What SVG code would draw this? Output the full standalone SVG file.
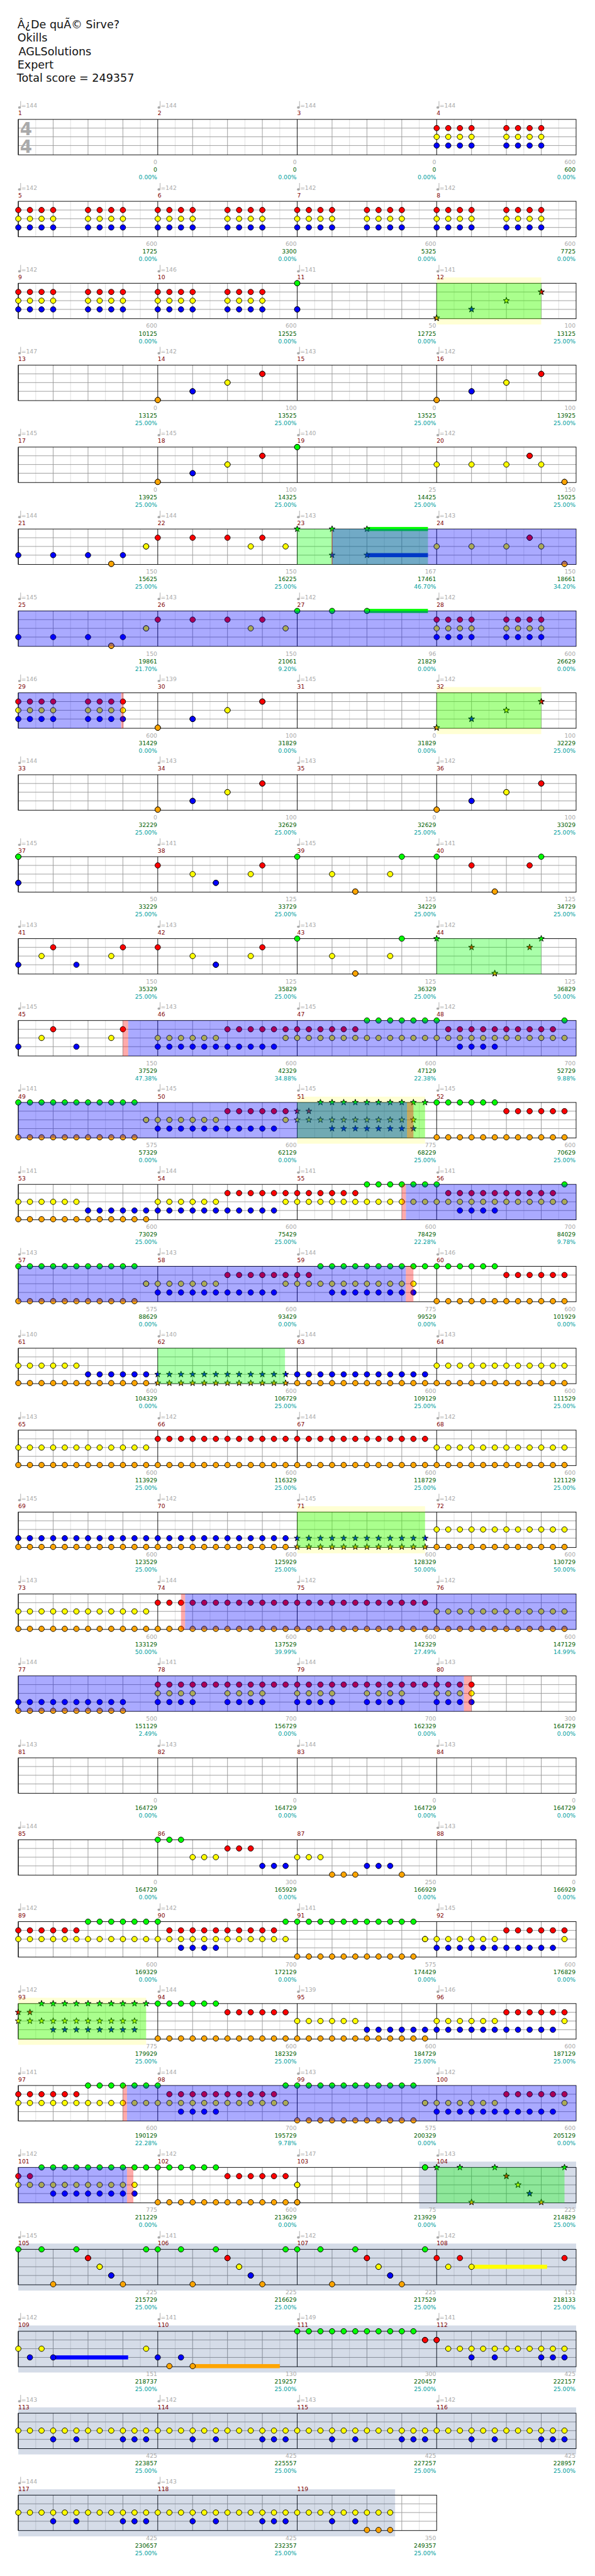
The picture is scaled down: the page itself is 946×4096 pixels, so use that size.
<svg xmlns="http://www.w3.org/2000/svg" width="946" height="4096" viewBox="0 0 946 4096">
<style>
text{font:10px "DejaVu Sans",sans-serif}
.h{font-size:19px;fill:#111}
.ts{font:bold 30px "DejaVu Sans",sans-serif;fill:#aaa}
.t{fill:#aaa}.n{fill:#800000}
.v,.s,.p{text-anchor:end}
.v{fill:#aaa}.s{fill:#006000}.p{fill:#00a0a0}
path{fill:none}
.r{marker:url(#nr)}.y{marker:url(#ny)}.b{marker:url(#nb)}.g{marker:url(#ng)}.o{marker:url(#no)}
.R{marker:url(#sr)}.Y{marker:url(#sy)}.B{marker:url(#sb)}.G{marker:url(#sg)}.O{marker:url(#so)}
.yb{fill:#ff0;fill-opacity:.1667}.gb{fill:#032d75;fill-opacity:.1667}
.gz{fill:#0f0;fill-opacity:.3333}.bz{fill:#00f;fill-opacity:.3333}.rz{fill:#f00;fill-opacity:.3333}
</style>
<defs>
<marker id="nr" markerUnits="userSpaceOnUse" markerWidth="16" markerHeight="16" refX="8" refY="8"><circle cx="8" cy="8" r="4.7" fill="#f00" stroke="#000"/></marker>
<marker id="ny" markerUnits="userSpaceOnUse" markerWidth="16" markerHeight="16" refX="8" refY="8"><circle cx="8" cy="8" r="4.7" fill="#ff0" stroke="#000"/></marker>
<marker id="nb" markerUnits="userSpaceOnUse" markerWidth="16" markerHeight="16" refX="8" refY="8"><circle cx="8" cy="8" r="4.7" fill="#00f" stroke="#000"/></marker>
<marker id="ng" markerUnits="userSpaceOnUse" markerWidth="16" markerHeight="16" refX="8" refY="8"><circle cx="8" cy="8" r="4.7" fill="#0f0" stroke="#000"/></marker>
<marker id="no" markerUnits="userSpaceOnUse" markerWidth="16" markerHeight="16" refX="8" refY="8"><circle cx="8" cy="8" r="4.7" fill="#ffa500" stroke="#000"/></marker>
<polygon id="star" points="8,2.4 9.28,6.24 13.2,6.24 10,8.64 11.2,12.48 8,10.16 4.8,12.48 6,8.64 2.8,6.24 6.72,6.24" stroke="#000"/>
<marker id="sr" markerUnits="userSpaceOnUse" markerWidth="16" markerHeight="16" refX="8" refY="8"><use href="#star" fill="#f00"/></marker>
<marker id="sy" markerUnits="userSpaceOnUse" markerWidth="16" markerHeight="16" refX="8" refY="8"><use href="#star" fill="#ff0"/></marker>
<marker id="sb" markerUnits="userSpaceOnUse" markerWidth="16" markerHeight="16" refX="8" refY="8"><use href="#star" fill="#00f"/></marker>
<marker id="sg" markerUnits="userSpaceOnUse" markerWidth="16" markerHeight="16" refX="8" refY="8"><use href="#star" fill="#0f0"/></marker>
<marker id="so" markerUnits="userSpaceOnUse" markerWidth="16" markerHeight="16" refX="8" refY="8"><use href="#star" fill="#ffa500"/></marker>
<g id="qn" fill="#aaa"><ellipse cx="2" cy="-20.5" rx="2.4" ry="2"/><path d="M4 -20.5V-31.5" stroke="#aaa"/></g>
<g id="ms"><path d="M30 0v61M90 0v61M150 0v61M210 0v61" stroke="#ddd"/><path d="M60 0v61M120 0v61M180 0v61M0 15h240M0 30h240M0 45h240" stroke="#999"/><path d="M0 0v61" stroke="#000"/></g>
<g id="st"><use href="#ms"/><use href="#ms" x="240"/><use href="#ms" x="480"/><use href="#ms" x="720"/><rect width="960" height="61" fill="none" stroke="#000"/></g>
<g id="st3"><use href="#ms"/><use href="#ms" x="240"/><use href="#ms" x="480"/><rect width="720" height="61" fill="none" stroke="#000"/></g>
<path id="F" d="M0 0h20 20 20 20 20 20 20 20 20 20 20"/>
<g id="A"><path class="r" d="M0 15h20 20 20m60 0h20 20 20"/><path class="y" d="M0 30h20 20 20m60 0h20 20 20"/><path class="b" d="M0 45h20 20 20m60 0h20 20 20"/></g>
<g id="P"><path class="o" d="M0 60h0"/><path class="b" d="M60 45h0"/><path class="y" d="M120 30h0"/><path class="r" d="M180 15h0"/></g>
<g id="Ps"><path class="O" d="M0 60h0"/><path class="B" d="M60 45h0"/><path class="Y" d="M120 30h0"/><path class="R" d="M180 15h0"/></g>
<g id="yo"><use href="#F" class="y" y="30"/><use href="#F" class="o" y="60"/></g>
<g id="ro"><use href="#F" class="r" y="15"/><use href="#F" class="o" y="60"/></g>
<g id="bo"><use href="#F" class="b" y="45"/><use href="#F" class="o" y="60"/></g>
<g id="boS"><use href="#F" class="B" y="45"/><use href="#F" class="O" y="60"/></g>
<g id="w1"><path class="y" d="M0 30h20 20 20 20 20 120"/><path class="b" d="M0 45h20 20 20 20 20 20 20 20 20 20"/><path class="r" d="M120 15h20 20 20 20 20"/></g>
<g id="w2"><path class="r" d="M0 15h20 20 20 20 20"/><use href="#F" class="y" y="30"/><path class="g" d="M120 0h20 20 20 20 20"/></g>
<g id="w3"><path class="g" d="M0 0h220"/><use href="#F" class="y" y="30"/><path class="r" d="M20 15h20 20 20 20 20 20 20 20 20"/><path class="b" d="M40 45h20 20 20"/></g>
<g id="w4"><path class="g" d="M0 0h20 20 20 20 20 20 20 20 20 20"/><path class="o" d="M0 60h20 20 20 20 20 20 20 20 20 20"/><path class="y" d="M220 30h0"/></g>
<g id="w5"><path class="r" d="M0 15h20"/><path class="y" d="M0 30h20 20 20 20 20 20 20 20 20 20"/><path class="b" d="M60 45h20 20 20 20 20 20 20"/><path class="g" d="M40 0h20 20 20 20 20 20 20 20 20"/></g>
<g id="w5s"><path class="R" d="M0 15h20"/><path class="Y" d="M0 30h20 20 20 20 20 20 20 20 20 20"/><path class="B" d="M60 45h20 20 20 20 20 20 20"/><path class="G" d="M40 0h20 20 20 20 20 20 20 20 20"/></g>
<g id="w6"><path class="g" d="M0 0h20 20 20 20 20"/><use href="#F" class="o" y="60"/><path class="r" d="M120 15h20 20 20 20 20"/></g>
<g id="w7"><path class="y" d="M0 30h20 20 20 20 20"/><path class="b" d="M120 45h20 20 20 20 20"/><use href="#F" class="o" y="60"/></g>
<g id="w8"><use href="#F" class="r" y="15"/><path class="y" d="M0 30h20 20 20m60 0h20 20 20"/><path class="b" d="M0 45h20 20 20m60 0h20 20 20"/></g>
<g id="w9"><use href="#F" class="y" y="30"/><path class="b" d="M60 45h40 80 20 20"/></g>
<g id="k1"><path class="b" d="M0 45h60 60 60"/><path class="o" d="M160 60h0"/><path class="y" d="M220 30h0"/></g>
<g id="k2"><path class="r" d="M0 15h60 60 60"/><path class="y" d="M160 30h60"/></g>
<g id="k3"><path class="y" d="M0 30h60 60 60"/><path class="r" d="M160 15h0"/><path class="o" d="M220 60h0"/></g>
<g id="j1"><path class="r" d="M0 15h180"/><path class="y" d="M60 30h100"/><path class="b" d="M100 45h0"/></g>
<g id="j2"><path class="g" d="M0 0h180"/><path class="y" d="M60 30h100"/><path class="o" d="M100 60h0"/></g>
<g id="j3"><path class="b" d="M0 45h100"/><path class="y" d="M40 30h120"/><path class="r" d="M60 15h120"/></g>
<g id="v"><path class="g" d="M0 0h40 60 120"/><path class="r" d="M120 15h0"/><path class="y" d="M140 30h0"/><path class="b" d="M160 45h0"/><path class="o" d="M60 60h120"/></g>
</defs>
<g transform="scale(.923828)">
<g id="title"><text class="h" x="30" y="48.7">Â¿De quÃ© Sirve?</text><text class="h" x="30" y="71.7">Okills</text><text class="h" x="32" y="95">AGLSolutions</text><text class="h" x="30" y="117.7">Expert</text><text class="h" x="29" y="140.7">Total score = 249357</text></g>
<g id="row0" transform="translate(31.5 205.5)"><use href="#st"/><text class="ts" x="3" y="27.5">4</text><text class="ts" x="3" y="57.5">4</text>
<g id="m1"><use href="#qn"/><text class="t" x="5" y="-20">=144</text><text class="n" y="-7">1</text><text class="v" x="239" y="77">0</text><text class="s" x="239" y="90">0</text><text class="p" x="239" y="103">0.00%</text></g>
<g id="m2" transform="translate(240)"><use href="#qn"/><text class="t" x="5" y="-20">=144</text><text class="n" y="-7">2</text><text class="v" x="239" y="77">0</text><text class="s" x="239" y="90">0</text><text class="p" x="239" y="103">0.00%</text></g>
<g id="m3" transform="translate(480)"><use href="#qn"/><text class="t" x="5" y="-20">=144</text><text class="n" y="-7">3</text><text class="v" x="239" y="77">0</text><text class="s" x="239" y="90">0</text><text class="p" x="239" y="103">0.00%</text></g>
<g id="m4" transform="translate(720)"><use href="#A"/><use href="#qn"/><text class="t" x="5" y="-20">=144</text><text class="n" y="-7">4</text><text class="v" x="239" y="77">600</text><text class="s" x="239" y="90">600</text><text class="p" x="239" y="103">0.00%</text></g>
</g>
<g id="row1" transform="translate(31.5 346.5)"><use href="#st"/>
<g id="m5"><use href="#A"/><use href="#qn"/><text class="t" x="5" y="-20">=142</text><text class="n" y="-7">5</text><text class="v" x="239" y="77">600</text><text class="s" x="239" y="90">1725</text><text class="p" x="239" y="103">0.00%</text></g>
<g id="m6" transform="translate(240)"><use href="#A"/><use href="#qn"/><text class="t" x="5" y="-20">=142</text><text class="n" y="-7">6</text><text class="v" x="239" y="77">600</text><text class="s" x="239" y="90">3300</text><text class="p" x="239" y="103">0.00%</text></g>
<g id="m7" transform="translate(480)"><use href="#A"/><use href="#qn"/><text class="t" x="5" y="-20">=142</text><text class="n" y="-7">7</text><text class="v" x="239" y="77">600</text><text class="s" x="239" y="90">5325</text><text class="p" x="239" y="103">0.00%</text></g>
<g id="m8" transform="translate(720)"><use href="#A"/><use href="#qn"/><text class="t" x="5" y="-20">=142</text><text class="n" y="-7">8</text><text class="v" x="239" y="77">600</text><text class="s" x="239" y="90">7725</text><text class="p" x="239" y="103">0.00%</text></g>
</g>
<g id="row2" transform="translate(31.5 487.5)"><use href="#st"/><rect class="yb" x="720" y="-10" width="180" height="81"/>
<g id="m9"><use href="#A"/><use href="#qn"/><text class="t" x="5" y="-20">=142</text><text class="n" y="-7">9</text><text class="v" x="239" y="77">600</text><text class="s" x="239" y="90">10125</text><text class="p" x="239" y="103">0.00%</text></g>
<g id="m10" transform="translate(240)"><use href="#A"/><use href="#qn"/><text class="t" x="5" y="-20">=146</text><text class="n" y="-7">10</text><text class="v" x="239" y="77">600</text><text class="s" x="239" y="90">12525</text><text class="p" x="239" y="103">0.00%</text></g>
<g id="m11" transform="translate(480)"><path class="g" d="M0 0h0"/><path class="b" d="M0 45h0"/><use href="#qn"/><text class="t" x="5" y="-20">=141</text><text class="n" y="-7">11</text><text class="v" x="239" y="77">50</text><text class="s" x="239" y="90">12725</text><text class="p" x="239" y="103">0.00%</text></g>
<g id="m12" transform="translate(720)"><use href="#Ps"/><use href="#qn"/><text class="t" x="5" y="-20">=141</text><text class="n" y="-7">12</text><text class="v" x="239" y="77">100</text><text class="s" x="239" y="90">13125</text><text class="p" x="239" y="103">25.00%</text></g>
<rect class="gz" x="720" width="180" height="61"/></g>
<g id="row3" transform="translate(31.5 628.5)"><use href="#st"/>
<g id="m13"><use href="#qn"/><text class="t" x="5" y="-20">=147</text><text class="n" y="-7">13</text><text class="v" x="239" y="77">0</text><text class="s" x="239" y="90">13125</text><text class="p" x="239" y="103">25.00%</text></g>
<g id="m14" transform="translate(240)"><use href="#P"/><use href="#qn"/><text class="t" x="5" y="-20">=142</text><text class="n" y="-7">14</text><text class="v" x="239" y="77">100</text><text class="s" x="239" y="90">13525</text><text class="p" x="239" y="103">25.00%</text></g>
<g id="m15" transform="translate(480)"><use href="#qn"/><text class="t" x="5" y="-20">=143</text><text class="n" y="-7">15</text><text class="v" x="239" y="77">0</text><text class="s" x="239" y="90">13525</text><text class="p" x="239" y="103">25.00%</text></g>
<g id="m16" transform="translate(720)"><use href="#P"/><use href="#qn"/><text class="t" x="5" y="-20">=142</text><text class="n" y="-7">16</text><text class="v" x="239" y="77">100</text><text class="s" x="239" y="90">13925</text><text class="p" x="239" y="103">25.00%</text></g>
</g>
<g id="row4" transform="translate(31.5 769.5)"><use href="#st"/>
<g id="m17"><use href="#qn"/><text class="t" x="5" y="-20">=145</text><text class="n" y="-7">17</text><text class="v" x="239" y="77">0</text><text class="s" x="239" y="90">13925</text><text class="p" x="239" y="103">25.00%</text></g>
<g id="m18" transform="translate(240)"><use href="#P"/><use href="#qn"/><text class="t" x="5" y="-20">=145</text><text class="n" y="-7">18</text><text class="v" x="239" y="77">100</text><text class="s" x="239" y="90">14325</text><text class="p" x="239" y="103">25.00%</text></g>
<g id="m19" transform="translate(480)"><path class="g" d="M0 0h0"/><use href="#qn"/><text class="t" x="5" y="-20">=140</text><text class="n" y="-7">19</text><text class="v" x="239" y="77">25</text><text class="s" x="239" y="90">14425</text><text class="p" x="239" y="103">25.00%</text></g>
<g id="m20" transform="translate(720)"><use href="#k3"/><use href="#qn"/><text class="t" x="5" y="-20">=142</text><text class="n" y="-7">20</text><text class="v" x="239" y="77">150</text><text class="s" x="239" y="90">15025</text><text class="p" x="239" y="103">25.00%</text></g>
</g>
<g id="row5" transform="translate(31.5 910.5)"><use href="#st"/>
<g id="m21"><use href="#k1"/><use href="#qn"/><text class="t" x="5" y="-20">=144</text><text class="n" y="-7">21</text><text class="v" x="239" y="77">150</text><text class="s" x="239" y="90">15625</text><text class="p" x="239" y="103">25.00%</text></g>
<g id="m22" transform="translate(240)"><use href="#k2"/><use href="#qn"/><text class="t" x="5" y="-20">=144</text><text class="n" y="-7">22</text><text class="v" x="239" y="77">150</text><text class="s" x="239" y="90">16225</text><text class="p" x="239" y="103">25.00%</text></g>
<g id="m23" transform="translate(480)"><rect x="120" y="-3.5" width="105" height="7" fill="#0f0"/><rect x="120" y="41.5" width="105" height="7" fill="#00f"/><path class="G" d="M0 0h60 60"/><path class="B" d="M60 45h60"/><use href="#qn"/><text class="t" x="5" y="-20">=143</text><text class="n" y="-7">23</text><text class="v" x="239" y="77">167</text><text class="s" x="239" y="90">17461</text><text class="p" x="239" y="103">46.70%</text></g>
<g id="m24" transform="translate(720)"><use href="#k3"/><use href="#qn"/><text class="t" x="5" y="-20">=143</text><text class="n" y="-7">24</text><text class="v" x="239" y="77">150</text><text class="s" x="239" y="90">18661</text><text class="p" x="239" y="103">34.20%</text></g>
<rect class="gz" x="480" width="225" height="61"/><rect class="bz" x="540" width="420" height="61"/><rect class="rz" x="539" width="2" height="61"/></g>
<g id="row6" transform="translate(31.5 1051.5)"><use href="#st"/>
<g id="m25"><use href="#k1"/><use href="#qn"/><text class="t" x="5" y="-20">=145</text><text class="n" y="-7">25</text><text class="v" x="239" y="77">150</text><text class="s" x="239" y="90">19861</text><text class="p" x="239" y="103">21.70%</text></g>
<g id="m26" transform="translate(240)"><use href="#k2"/><use href="#qn"/><text class="t" x="5" y="-20">=143</text><text class="n" y="-7">26</text><text class="v" x="239" y="77">150</text><text class="s" x="239" y="90">21061</text><text class="p" x="239" y="103">9.20%</text></g>
<g id="m27" transform="translate(480)"><rect x="120" y="-3.5" width="105" height="7" fill="#0f0"/><path class="g" d="M0 0h60 60"/><use href="#qn"/><text class="t" x="5" y="-20">=142</text><text class="n" y="-7">27</text><text class="v" x="239" y="77">96</text><text class="s" x="239" y="90">21829</text><text class="p" x="239" y="103">0.00%</text></g>
<g id="m28" transform="translate(720)"><use href="#A"/><use href="#qn"/><text class="t" x="5" y="-20">=142</text><text class="n" y="-7">28</text><text class="v" x="239" y="77">600</text><text class="s" x="239" y="90">26629</text><text class="p" x="239" y="103">0.00%</text></g>
<rect class="bz" width="960" height="61"/></g>
<g id="row7" transform="translate(31.5 1192.5)"><use href="#st"/><rect class="yb" x="720" y="-10" width="180" height="81"/>
<g id="m29"><use href="#A"/><use href="#qn"/><text class="t" x="5" y="-20">=146</text><text class="n" y="-7">29</text><text class="v" x="239" y="77">600</text><text class="s" x="239" y="90">31429</text><text class="p" x="239" y="103">0.00%</text></g>
<g id="m30" transform="translate(240)"><use href="#P"/><use href="#qn"/><text class="t" x="5" y="-20">=139</text><text class="n" y="-7">30</text><text class="v" x="239" y="77">100</text><text class="s" x="239" y="90">31829</text><text class="p" x="239" y="103">0.00%</text></g>
<g id="m31" transform="translate(480)"><use href="#qn"/><text class="t" x="5" y="-20">=145</text><text class="n" y="-7">31</text><text class="v" x="239" y="77">0</text><text class="s" x="239" y="90">31829</text><text class="p" x="239" y="103">0.00%</text></g>
<g id="m32" transform="translate(720)"><use href="#Ps"/><use href="#qn"/><text class="t" x="5" y="-20">=142</text><text class="n" y="-7">32</text><text class="v" x="239" y="77">100</text><text class="s" x="239" y="90">32229</text><text class="p" x="239" y="103">25.00%</text></g>
<rect class="gz" x="720" width="180" height="61"/><rect class="bz" width="177" height="61"/><rect class="rz" x="177" width="4" height="61"/></g>
<g id="row8" transform="translate(31.5 1333.5)"><use href="#st"/>
<g id="m33"><use href="#qn"/><text class="t" x="5" y="-20">=144</text><text class="n" y="-7">33</text><text class="v" x="239" y="77">0</text><text class="s" x="239" y="90">32229</text><text class="p" x="239" y="103">25.00%</text></g>
<g id="m34" transform="translate(240)"><use href="#P"/><use href="#qn"/><text class="t" x="5" y="-20">=143</text><text class="n" y="-7">34</text><text class="v" x="239" y="77">100</text><text class="s" x="239" y="90">32629</text><text class="p" x="239" y="103">25.00%</text></g>
<g id="m35" transform="translate(480)"><use href="#qn"/><text class="t" x="5" y="-20">=143</text><text class="n" y="-7">35</text><text class="v" x="239" y="77">0</text><text class="s" x="239" y="90">32629</text><text class="p" x="239" y="103">25.00%</text></g>
<g id="m36" transform="translate(720)"><use href="#P"/><use href="#qn"/><text class="t" x="5" y="-20">=142</text><text class="n" y="-7">36</text><text class="v" x="239" y="77">100</text><text class="s" x="239" y="90">33029</text><text class="p" x="239" y="103">25.00%</text></g>
</g>
<g id="row9" transform="translate(31.5 1474.5)"><use href="#st"/>
<g id="m37"><path class="g" d="M0 0h0"/><path class="b" d="M0 45h0"/><use href="#qn"/><text class="t" x="5" y="-20">=145</text><text class="n" y="-7">37</text><text class="v" x="239" y="77">50</text><text class="s" x="239" y="90">33229</text><text class="p" x="239" y="103">25.00%</text></g>
<g id="m38" transform="translate(240)"><use href="#j1"/><use href="#qn"/><text class="t" x="5" y="-20">=141</text><text class="n" y="-7">38</text><text class="v" x="239" y="77">125</text><text class="s" x="239" y="90">33729</text><text class="p" x="239" y="103">25.00%</text></g>
<g id="m39" transform="translate(480)"><use href="#j2"/><use href="#qn"/><text class="t" x="5" y="-20">=145</text><text class="n" y="-7">39</text><text class="v" x="239" y="77">125</text><text class="s" x="239" y="90">34229</text><text class="p" x="239" y="103">25.00%</text></g>
<g id="m40" transform="translate(720)"><path class="g" d="M0 0h180"/><path class="r" d="M60 15h100"/><path class="o" d="M100 60h0"/><use href="#qn"/><text class="t" x="5" y="-20">=141</text><text class="n" y="-7">40</text><text class="v" x="239" y="77">125</text><text class="s" x="239" y="90">34729</text><text class="p" x="239" y="103">25.00%</text></g>
</g>
<g id="row10" transform="translate(31.5 1615.5)"><use href="#st"/>
<g id="m41"><use href="#j3"/><use href="#qn"/><text class="t" x="5" y="-20">=143</text><text class="n" y="-7">41</text><text class="v" x="239" y="77">150</text><text class="s" x="239" y="90">35329</text><text class="p" x="239" y="103">25.00%</text></g>
<g id="m42" transform="translate(240)"><use href="#j1"/><use href="#qn"/><text class="t" x="5" y="-20">=143</text><text class="n" y="-7">42</text><text class="v" x="239" y="77">125</text><text class="s" x="239" y="90">35829</text><text class="p" x="239" y="103">25.00%</text></g>
<g id="m43" transform="translate(480)"><use href="#j2"/><use href="#qn"/><text class="t" x="5" y="-20">=143</text><text class="n" y="-7">43</text><text class="v" x="239" y="77">125</text><text class="s" x="239" y="90">36329</text><text class="p" x="239" y="103">25.00%</text></g>
<g id="m44" transform="translate(720)"><path class="G" d="M0 0h180"/><path class="R" d="M60 15h100"/><path class="O" d="M100 60h0"/><use href="#qn"/><text class="t" x="5" y="-20">=142</text><text class="n" y="-7">44</text><text class="v" x="239" y="77">125</text><text class="s" x="239" y="90">36829</text><text class="p" x="239" y="103">50.00%</text></g>
<rect class="gz" x="720" width="180" height="61"/></g>
<g id="row11" transform="translate(31.5 1756.5)"><use href="#st"/>
<g id="m45"><use href="#j3"/><use href="#qn"/><text class="t" x="5" y="-20">=145</text><text class="n" y="-7">45</text><text class="v" x="239" y="77">150</text><text class="s" x="239" y="90">37529</text><text class="p" x="239" y="103">47.38%</text></g>
<g id="m46" transform="translate(240)"><use href="#w1"/><use href="#qn"/><text class="t" x="5" y="-20">=143</text><text class="n" y="-7">46</text><text class="v" x="239" y="77">600</text><text class="s" x="239" y="90">42329</text><text class="p" x="239" y="103">34.88%</text></g>
<g id="m47" transform="translate(480)"><use href="#w2"/><use href="#qn"/><text class="t" x="5" y="-20">=145</text><text class="n" y="-7">47</text><text class="v" x="239" y="77">600</text><text class="s" x="239" y="90">47129</text><text class="p" x="239" y="103">22.38%</text></g>
<g id="m48" transform="translate(720)"><use href="#w3"/><use href="#qn"/><text class="t" x="5" y="-20">=142</text><text class="n" y="-7">48</text><text class="v" x="239" y="77">700</text><text class="s" x="239" y="90">52729</text><text class="p" x="239" y="103">9.88%</text></g>
<rect class="bz" x="189" width="771" height="61"/><rect class="rz" x="180" width="9" height="61"/></g>
<g id="row12" transform="translate(31.5 1897.5)"><use href="#st"/><rect class="yb" x="480" y="-10" width="220" height="81"/>
<g id="m49"><use href="#w4"/><use href="#qn"/><text class="t" x="5" y="-20">=141</text><text class="n" y="-7">49</text><text class="v" x="239" y="77">575</text><text class="s" x="239" y="90">57329</text><text class="p" x="239" y="103">0.00%</text></g>
<g id="m50" transform="translate(240)"><use href="#w1"/><use href="#qn"/><text class="t" x="5" y="-20">=145</text><text class="n" y="-7">50</text><text class="v" x="239" y="77">600</text><text class="s" x="239" y="90">62129</text><text class="p" x="239" y="103">0.00%</text></g>
<g id="m51" transform="translate(480)"><use href="#w5s"/><use href="#qn"/><text class="t" x="5" y="-20">=145</text><text class="n" y="-7">51</text><text class="v" x="239" y="77">775</text><text class="s" x="239" y="90">68229</text><text class="p" x="239" y="103">25.00%</text></g>
<g id="m52" transform="translate(720)"><use href="#w6"/><use href="#qn"/><text class="t" x="5" y="-20">=145</text><text class="n" y="-7">52</text><text class="v" x="239" y="77">600</text><text class="s" x="239" y="90">70629</text><text class="p" x="239" y="103">25.00%</text></g>
<rect class="gz" x="480" width="220" height="61"/><rect class="bz" width="669" height="61"/><rect class="rz" x="669" width="11" height="61"/></g>
<g id="row13" transform="translate(31.5 2038.5)"><use href="#st"/>
<g id="m53"><use href="#w7"/><use href="#qn"/><text class="t" x="5" y="-20">=141</text><text class="n" y="-7">53</text><text class="v" x="239" y="77">600</text><text class="s" x="239" y="90">73029</text><text class="p" x="239" y="103">25.00%</text></g>
<g id="m54" transform="translate(240)"><use href="#w1"/><use href="#qn"/><text class="t" x="5" y="-20">=144</text><text class="n" y="-7">54</text><text class="v" x="239" y="77">600</text><text class="s" x="239" y="90">75429</text><text class="p" x="239" y="103">25.00%</text></g>
<g id="m55" transform="translate(480)"><use href="#w2"/><use href="#qn"/><text class="t" x="5" y="-20">=141</text><text class="n" y="-7">55</text><text class="v" x="239" y="77">600</text><text class="s" x="239" y="90">78429</text><text class="p" x="239" y="103">22.28%</text></g>
<g id="m56" transform="translate(720)"><use href="#w3"/><use href="#qn"/><text class="t" x="5" y="-20">=141</text><text class="n" y="-7">56</text><text class="v" x="239" y="77">700</text><text class="s" x="239" y="90">84029</text><text class="p" x="239" y="103">9.78%</text></g>
<rect class="bz" x="667" width="293" height="61"/><rect class="rz" x="660" width="7" height="61"/></g>
<g id="row14" transform="translate(31.5 2179.5)"><use href="#st"/>
<g id="m57"><use href="#w4"/><use href="#qn"/><text class="t" x="5" y="-20">=143</text><text class="n" y="-7">57</text><text class="v" x="239" y="77">575</text><text class="s" x="239" y="90">88629</text><text class="p" x="239" y="103">0.00%</text></g>
<g id="m58" transform="translate(240)"><use href="#w1"/><use href="#qn"/><text class="t" x="5" y="-20">=143</text><text class="n" y="-7">58</text><text class="v" x="239" y="77">600</text><text class="s" x="239" y="90">93429</text><text class="p" x="239" y="103">0.00%</text></g>
<g id="m59" transform="translate(480)"><use href="#w5"/><use href="#qn"/><text class="t" x="5" y="-20">=144</text><text class="n" y="-7">59</text><text class="v" x="239" y="77">775</text><text class="s" x="239" y="90">99529</text><text class="p" x="239" y="103">0.00%</text></g>
<g id="m60" transform="translate(720)"><use href="#w6"/><use href="#qn"/><text class="t" x="5" y="-20">=146</text><text class="n" y="-7">60</text><text class="v" x="239" y="77">600</text><text class="s" x="239" y="90">101929</text><text class="p" x="239" y="103">0.00%</text></g>
<rect class="bz" width="667" height="61"/><rect class="rz" x="667" width="13" height="61"/></g>
<g id="row15" transform="translate(31.5 2320.5)"><use href="#st"/>
<g id="m61"><use href="#w7"/><use href="#qn"/><text class="t" x="5" y="-20">=140</text><text class="n" y="-7">61</text><text class="v" x="239" y="77">600</text><text class="s" x="239" y="90">104329</text><text class="p" x="239" y="103">0.00%</text></g>
<g id="m62" transform="translate(240)"><use href="#boS"/><use href="#qn"/><text class="t" x="5" y="-20">=140</text><text class="n" y="-7">62</text><text class="v" x="239" y="77">600</text><text class="s" x="239" y="90">106729</text><text class="p" x="239" y="103">25.00%</text></g>
<g id="m63" transform="translate(480)"><use href="#bo"/><use href="#qn"/><text class="t" x="5" y="-20">=144</text><text class="n" y="-7">63</text><text class="v" x="239" y="77">600</text><text class="s" x="239" y="90">109129</text><text class="p" x="239" y="103">25.00%</text></g>
<g id="m64" transform="translate(720)"><use href="#yo"/><use href="#qn"/><text class="t" x="5" y="-20">=143</text><text class="n" y="-7">64</text><text class="v" x="239" y="77">600</text><text class="s" x="239" y="90">111529</text><text class="p" x="239" y="103">25.00%</text></g>
<rect class="gz" x="240" width="219" height="61"/></g>
<g id="row16" transform="translate(31.5 2461.5)"><use href="#st"/>
<g id="m65"><use href="#yo"/><use href="#qn"/><text class="t" x="5" y="-20">=143</text><text class="n" y="-7">65</text><text class="v" x="239" y="77">600</text><text class="s" x="239" y="90">113929</text><text class="p" x="239" y="103">25.00%</text></g>
<g id="m66" transform="translate(240)"><use href="#ro"/><use href="#qn"/><text class="t" x="5" y="-20">=142</text><text class="n" y="-7">66</text><text class="v" x="239" y="77">600</text><text class="s" x="239" y="90">116329</text><text class="p" x="239" y="103">25.00%</text></g>
<g id="m67" transform="translate(480)"><use href="#ro"/><use href="#qn"/><text class="t" x="5" y="-20">=144</text><text class="n" y="-7">67</text><text class="v" x="239" y="77">600</text><text class="s" x="239" y="90">118729</text><text class="p" x="239" y="103">25.00%</text></g>
<g id="m68" transform="translate(720)"><use href="#yo"/><use href="#qn"/><text class="t" x="5" y="-20">=142</text><text class="n" y="-7">68</text><text class="v" x="239" y="77">600</text><text class="s" x="239" y="90">121129</text><text class="p" x="239" y="103">25.00%</text></g>
</g>
<g id="row17" transform="translate(31.5 2602.5)"><use href="#st"/><rect class="yb" x="480" y="-10" width="220" height="81"/>
<g id="m69"><use href="#bo"/><use href="#qn"/><text class="t" x="5" y="-20">=145</text><text class="n" y="-7">69</text><text class="v" x="239" y="77">600</text><text class="s" x="239" y="90">123529</text><text class="p" x="239" y="103">25.00%</text></g>
<g id="m70" transform="translate(240)"><use href="#bo"/><use href="#qn"/><text class="t" x="5" y="-20">=142</text><text class="n" y="-7">70</text><text class="v" x="239" y="77">600</text><text class="s" x="239" y="90">125929</text><text class="p" x="239" y="103">25.00%</text></g>
<g id="m71" transform="translate(480)"><use href="#boS"/><use href="#qn"/><text class="t" x="5" y="-20">=145</text><text class="n" y="-7">71</text><text class="v" x="239" y="77">600</text><text class="s" x="239" y="90">128329</text><text class="p" x="239" y="103">50.00%</text></g>
<g id="m72" transform="translate(720)"><use href="#yo"/><use href="#qn"/><text class="t" x="5" y="-20">=142</text><text class="n" y="-7">72</text><text class="v" x="239" y="77">600</text><text class="s" x="239" y="90">130729</text><text class="p" x="239" y="103">50.00%</text></g>
<rect class="gz" x="480" width="220" height="61"/></g>
<g id="row18" transform="translate(31.5 2743.5)"><use href="#st"/>
<g id="m73"><use href="#yo"/><use href="#qn"/><text class="t" x="5" y="-20">=143</text><text class="n" y="-7">73</text><text class="v" x="239" y="77">600</text><text class="s" x="239" y="90">133129</text><text class="p" x="239" y="103">50.00%</text></g>
<g id="m74" transform="translate(240)"><use href="#ro"/><use href="#qn"/><text class="t" x="5" y="-20">=144</text><text class="n" y="-7">74</text><text class="v" x="239" y="77">600</text><text class="s" x="239" y="90">137529</text><text class="p" x="239" y="103">39.99%</text></g>
<g id="m75" transform="translate(480)"><use href="#ro"/><use href="#qn"/><text class="t" x="5" y="-20">=142</text><text class="n" y="-7">75</text><text class="v" x="239" y="77">600</text><text class="s" x="239" y="90">142329</text><text class="p" x="239" y="103">27.49%</text></g>
<g id="m76" transform="translate(720)"><use href="#yo"/><use href="#qn"/><text class="t" x="5" y="-20">=142</text><text class="n" y="-7">76</text><text class="v" x="239" y="77">600</text><text class="s" x="239" y="90">147129</text><text class="p" x="239" y="103">14.99%</text></g>
<rect class="bz" x="287" width="673" height="61"/><rect class="rz" x="280" width="7" height="61"/></g>
<g id="row19" transform="translate(31.5 2884.5)"><use href="#st"/>
<g id="m77"><path class="b" d="M0 45h20 20 20 20 20 20 20 20 20"/><path class="o" d="M0 60h20 20 20 20 20 20 20 20 20"/><use href="#qn"/><text class="t" x="5" y="-20">=144</text><text class="n" y="-7">77</text><text class="v" x="239" y="77">500</text><text class="s" x="239" y="90">151129</text><text class="p" x="239" y="103">2.49%</text></g>
<g id="m78" transform="translate(240)"><use href="#w8"/><use href="#qn"/><text class="t" x="5" y="-20">=141</text><text class="n" y="-7">78</text><text class="v" x="239" y="77">700</text><text class="s" x="239" y="90">156729</text><text class="p" x="239" y="103">0.00%</text></g>
<g id="m79" transform="translate(480)"><use href="#w8"/><use href="#qn"/><text class="t" x="5" y="-20">=144</text><text class="n" y="-7">79</text><text class="v" x="239" y="77">700</text><text class="s" x="239" y="90">162329</text><text class="p" x="239" y="103">0.00%</text></g>
<g id="m80" transform="translate(720)"><path class="r" d="M0 15h20 20 20"/><path class="y" d="M0 30h20 20 20"/><path class="b" d="M0 45h20 20 20"/><use href="#qn"/><text class="t" x="5" y="-20">=143</text><text class="n" y="-7">80</text><text class="v" x="239" y="77">300</text><text class="s" x="239" y="90">164729</text><text class="p" x="239" y="103">0.00%</text></g>
<rect class="bz" width="767" height="61"/><rect class="rz" x="767" width="13" height="61"/></g>
<g id="row20" transform="translate(31.5 3025.5)"><use href="#st"/>
<g id="m81"><use href="#qn"/><text class="t" x="5" y="-20">=143</text><text class="n" y="-7">81</text><text class="v" x="239" y="77">0</text><text class="s" x="239" y="90">164729</text><text class="p" x="239" y="103">0.00%</text></g>
<g id="m82" transform="translate(240)"><use href="#qn"/><text class="t" x="5" y="-20">=143</text><text class="n" y="-7">82</text><text class="v" x="239" y="77">0</text><text class="s" x="239" y="90">164729</text><text class="p" x="239" y="103">0.00%</text></g>
<g id="m83" transform="translate(480)"><use href="#qn"/><text class="t" x="5" y="-20">=144</text><text class="n" y="-7">83</text><text class="v" x="239" y="77">0</text><text class="s" x="239" y="90">164729</text><text class="p" x="239" y="103">0.00%</text></g>
<g id="m84" transform="translate(720)"><use href="#qn"/><text class="t" x="5" y="-20">=143</text><text class="n" y="-7">84</text><text class="v" x="239" y="77">0</text><text class="s" x="239" y="90">164729</text><text class="p" x="239" y="103">0.00%</text></g>
</g>
<g id="row21" transform="translate(31.5 3166.5)"><use href="#st"/>
<g id="m85"><use href="#qn"/><text class="t" x="5" y="-20">=144</text><text class="n" y="-7">85</text><text class="v" x="239" y="77">0</text><text class="s" x="239" y="90">164729</text><text class="p" x="239" y="103">0.00%</text></g>
<g id="m86" transform="translate(240)"><path class="g" d="M0 0h20 20"/><path class="y" d="M60 30h20 20"/><path class="r" d="M120 15h20 20"/><path class="b" d="M180 45h20 20"/><text class="n" y="-7">86</text><text class="v" x="239" y="77">300</text><text class="s" x="239" y="90">165929</text><text class="p" x="239" y="103">0.00%</text></g>
<g id="m87" transform="translate(480)"><path class="y" d="M0 30h20 20"/><path class="o" d="M60 60h20 20 80"/><path class="b" d="M120 45h20 20"/><text class="n" y="-7">87</text><text class="v" x="239" y="77">250</text><text class="s" x="239" y="90">166929</text><text class="p" x="239" y="103">0.00%</text></g>
<g id="m88" transform="translate(720)"><use href="#qn"/><text class="t" x="5" y="-20">=143</text><text class="n" y="-7">88</text><text class="v" x="239" y="77">0</text><text class="s" x="239" y="90">166929</text><text class="p" x="239" y="103">0.00%</text></g>
</g>
<g id="row22" transform="translate(31.5 3307.5)"><use href="#st"/>
<g id="m89"><use href="#w2"/><use href="#qn"/><text class="t" x="5" y="-20">=142</text><text class="n" y="-7">89</text><text class="v" x="239" y="77">600</text><text class="s" x="239" y="90">169329</text><text class="p" x="239" y="103">0.00%</text></g>
<g id="m90" transform="translate(240)"><use href="#w3"/><use href="#qn"/><text class="t" x="5" y="-20">=142</text><text class="n" y="-7">90</text><text class="v" x="239" y="77">700</text><text class="s" x="239" y="90">172129</text><text class="p" x="239" y="103">0.00%</text></g>
<g id="m91" transform="translate(480)"><use href="#w4"/><use href="#qn"/><text class="t" x="5" y="-20">=141</text><text class="n" y="-7">91</text><text class="v" x="239" y="77">575</text><text class="s" x="239" y="90">174429</text><text class="p" x="239" y="103">0.00%</text></g>
<g id="m92" transform="translate(720)"><use href="#w1"/><use href="#qn"/><text class="t" x="5" y="-20">=145</text><text class="n" y="-7">92</text><text class="v" x="239" y="77">600</text><text class="s" x="239" y="90">176829</text><text class="p" x="239" y="103">0.00%</text></g>
</g>
<g id="row23" transform="translate(31.5 3448.5)"><use href="#st"/><rect class="yb" y="-10" width="220" height="81"/>
<g id="m93"><use href="#w5s"/><use href="#qn"/><text class="t" x="5" y="-20">=142</text><text class="n" y="-7">93</text><text class="v" x="239" y="77">775</text><text class="s" x="239" y="90">179929</text><text class="p" x="239" y="103">25.00%</text></g>
<g id="m94" transform="translate(240)"><use href="#w6"/><use href="#qn"/><text class="t" x="5" y="-20">=144</text><text class="n" y="-7">94</text><text class="v" x="239" y="77">600</text><text class="s" x="239" y="90">182329</text><text class="p" x="239" y="103">25.00%</text></g>
<g id="m95" transform="translate(480)"><use href="#w7"/><use href="#qn"/><text class="t" x="5" y="-20">=139</text><text class="n" y="-7">95</text><text class="v" x="239" y="77">600</text><text class="s" x="239" y="90">184729</text><text class="p" x="239" y="103">25.00%</text></g>
<g id="m96" transform="translate(720)"><use href="#w1"/><use href="#qn"/><text class="t" x="5" y="-20">=146</text><text class="n" y="-7">96</text><text class="v" x="239" y="77">600</text><text class="s" x="239" y="90">187129</text><text class="p" x="239" y="103">25.00%</text></g>
<rect class="gz" width="220" height="61"/></g>
<g id="row24" transform="translate(31.5 3589.5)"><use href="#st"/>
<g id="m97"><use href="#w2"/><use href="#qn"/><text class="t" x="5" y="-20">=141</text><text class="n" y="-7">97</text><text class="v" x="239" y="77">600</text><text class="s" x="239" y="90">190129</text><text class="p" x="239" y="103">22.28%</text></g>
<g id="m98" transform="translate(240)"><use href="#w3"/><use href="#qn"/><text class="t" x="5" y="-20">=144</text><text class="n" y="-7">98</text><text class="v" x="239" y="77">700</text><text class="s" x="239" y="90">195729</text><text class="p" x="239" y="103">9.78%</text></g>
<g id="m99" transform="translate(480)"><use href="#w4"/><use href="#qn"/><text class="t" x="5" y="-20">=143</text><text class="n" y="-7">99</text><text class="v" x="239" y="77">575</text><text class="s" x="239" y="90">200329</text><text class="p" x="239" y="103">0.00%</text></g>
<g id="m100" transform="translate(720)"><use href="#w1"/><use href="#qn"/><text class="t" x="5" y="-20">=142</text><text class="n" y="-7">100</text><text class="v" x="239" y="77">600</text><text class="s" x="239" y="90">205129</text><text class="p" x="239" y="103">0.00%</text></g>
<rect class="bz" x="187" width="773" height="61"/><rect class="rz" x="180" width="7" height="61"/></g>
<g id="row25" transform="translate(31.5 3730.5)"><use href="#st"/><rect class="gb" x="690" y="-10" width="270" height="81"/>
<g id="m101"><use href="#w5"/><use href="#qn"/><text class="t" x="5" y="-20">=142</text><text class="n" y="-7">101</text><text class="v" x="239" y="77">775</text><text class="s" x="239" y="90">211229</text><text class="p" x="239" y="103">0.00%</text></g>
<g id="m102" transform="translate(240)"><use href="#w6"/><use href="#qn"/><text class="t" x="5" y="-20">=142</text><text class="n" y="-7">102</text><text class="v" x="239" y="77">600</text><text class="s" x="239" y="90">213629</text><text class="p" x="239" y="103">0.00%</text></g>
<g id="m103" transform="translate(480)"><path class="y" d="M0 30h0"/><path class="o" d="M0 60h0"/><path class="g" d="M220 0h0"/><use href="#qn"/><text class="t" x="5" y="-20">=147</text><text class="n" y="-7">103</text><text class="v" x="239" y="77">75</text><text class="s" x="239" y="90">213929</text><text class="p" x="239" y="103">0.00%</text></g>
<g id="m104" transform="translate(720)"><path class="G" d="M0 0h40 60 120"/><path class="R" d="M120 15h0"/><path class="Y" d="M140 30h0"/><path class="B" d="M160 45h0"/><path class="O" d="M60 60h120"/><use href="#qn"/><text class="t" x="5" y="-20">=143</text><text class="n" y="-7">104</text><text class="v" x="239" y="77">225</text><text class="s" x="239" y="90">214829</text><text class="p" x="239" y="103">25.00%</text></g>
<rect class="gz" x="720" width="220" height="61"/><rect class="bz" width="187" height="61"/><rect class="rz" x="187" width="11" height="61"/></g>
<g id="row26" transform="translate(31.5 3871.5)"><use href="#st"/><rect class="gb" y="-10" width="960" height="81"/>
<g id="m105"><use href="#v"/><use href="#qn"/><text class="t" x="5" y="-20">=145</text><text class="n" y="-7">105</text><text class="v" x="239" y="77">225</text><text class="s" x="239" y="90">215729</text><text class="p" x="239" y="103">25.00%</text></g>
<g id="m106" transform="translate(240)"><use href="#v"/><use href="#qn"/><text class="t" x="5" y="-20">=141</text><text class="n" y="-7">106</text><text class="v" x="239" y="77">225</text><text class="s" x="239" y="90">216629</text><text class="p" x="239" y="103">25.00%</text></g>
<g id="m107" transform="translate(480)"><use href="#v"/><use href="#qn"/><text class="t" x="5" y="-20">=142</text><text class="n" y="-7">107</text><text class="v" x="239" y="77">225</text><text class="s" x="239" y="90">217529</text><text class="p" x="239" y="103">25.00%</text></g>
<g id="m108" transform="translate(720)"><rect x="60" y="26.5" width="130" height="7" fill="#ff0"/><path class="r" d="M0 15h40 180"/><path class="y" d="M20 30h40"/><use href="#qn"/><text class="t" x="5" y="-20">=142</text><text class="n" y="-7">108</text><text class="v" x="239" y="77">151</text><text class="s" x="239" y="90">218133</text><text class="p" x="239" y="103">25.00%</text></g>
</g>
<g id="row27" transform="translate(31.5 4012.5)"><use href="#st"/><rect class="gb" y="-10" width="960" height="81"/>
<g id="m109"><rect x="60" y="41.5" width="129" height="7" fill="#00f"/><path class="y" d="M0 30h40 180"/><path class="b" d="M20 45h40"/><use href="#qn"/><text class="t" x="5" y="-20">=142</text><text class="n" y="-7">109</text><text class="v" x="239" y="77">151</text><text class="s" x="239" y="90">218737</text><text class="p" x="239" y="103">25.00%</text></g>
<g id="m110" transform="translate(240)"><rect x="60" y="56.5" width="150" height="7" fill="#ffa500"/><path class="b" d="M0 45h40"/><path class="o" d="M20 60h40"/><use href="#qn"/><text class="t" x="5" y="-20">=141</text><text class="n" y="-7">110</text><text class="v" x="239" y="77">130</text><text class="s" x="239" y="90">219257</text><text class="p" x="239" y="103">25.00%</text></g>
<g id="m111" transform="translate(480)"><path class="g" d="M0 0h20 20 20 20 20 20 20 20 20 20"/><path class="r" d="M220 15h0"/><use href="#qn"/><text class="t" x="5" y="-20">=149</text><text class="n" y="-7">111</text><text class="v" x="239" y="77">300</text><text class="s" x="239" y="90">220457</text><text class="p" x="239" y="103">25.00%</text></g>
<g id="m112" transform="translate(720)"><path class="r" d="M0 15h0"/><path class="y" d="M20 30h20 20 20 20 20 20 20 20 20 20"/><path class="b" d="M60 45h40 80 20 20"/><use href="#qn"/><text class="t" x="5" y="-20">=141</text><text class="n" y="-7">112</text><text class="v" x="239" y="77">425</text><text class="s" x="239" y="90">222157</text><text class="p" x="239" y="103">25.00%</text></g>
</g>
<g id="row28" transform="translate(31.5 4153.5)"><use href="#st"/><rect class="gb" y="-10" width="960" height="81"/>
<g id="m113"><use href="#w9"/><use href="#qn"/><text class="t" x="5" y="-20">=143</text><text class="n" y="-7">113</text><text class="v" x="239" y="77">425</text><text class="s" x="239" y="90">223857</text><text class="p" x="239" y="103">25.00%</text></g>
<g id="m114" transform="translate(240)"><use href="#w9"/><use href="#qn"/><text class="t" x="5" y="-20">=142</text><text class="n" y="-7">114</text><text class="v" x="239" y="77">425</text><text class="s" x="239" y="90">225557</text><text class="p" x="239" y="103">25.00%</text></g>
<g id="m115" transform="translate(480)"><use href="#w9"/><use href="#qn"/><text class="t" x="5" y="-20">=143</text><text class="n" y="-7">115</text><text class="v" x="239" y="77">425</text><text class="s" x="239" y="90">227257</text><text class="p" x="239" y="103">25.00%</text></g>
<g id="m116" transform="translate(720)"><use href="#w9"/><use href="#qn"/><text class="t" x="5" y="-20">=142</text><text class="n" y="-7">116</text><text class="v" x="239" y="77">425</text><text class="s" x="239" y="90">228957</text><text class="p" x="239" y="103">25.00%</text></g>
</g>
<g id="row29" transform="translate(31.5 4294.5)"><use href="#st3"/><rect class="gb" y="-10" width="648.5" height="81"/>
<g id="m117"><use href="#w9"/><use href="#qn"/><text class="t" x="5" y="-20">=144</text><text class="n" y="-7">117</text><text class="v" x="239" y="77">425</text><text class="s" x="239" y="90">230657</text><text class="p" x="239" y="103">25.00%</text></g>
<g id="m118" transform="translate(240)"><use href="#w9"/><use href="#qn"/><text class="t" x="5" y="-20">=143</text><text class="n" y="-7">118</text><text class="v" x="239" y="77">425</text><text class="s" x="239" y="90">232357</text><text class="p" x="239" y="103">25.00%</text></g>
<g id="m119" transform="translate(480)"><path class="y" d="M0 30h20 20 20 20 20 20 20 20"/><path class="b" d="M60 45h40"/><path class="o" d="M120 60h20 20"/><text class="n" y="-7">119</text><text class="v" x="239" y="77">350</text><text class="s" x="239" y="90">249357</text><text class="p" x="239" y="103">25.00%</text></g>
</g>
</g>
</svg>
